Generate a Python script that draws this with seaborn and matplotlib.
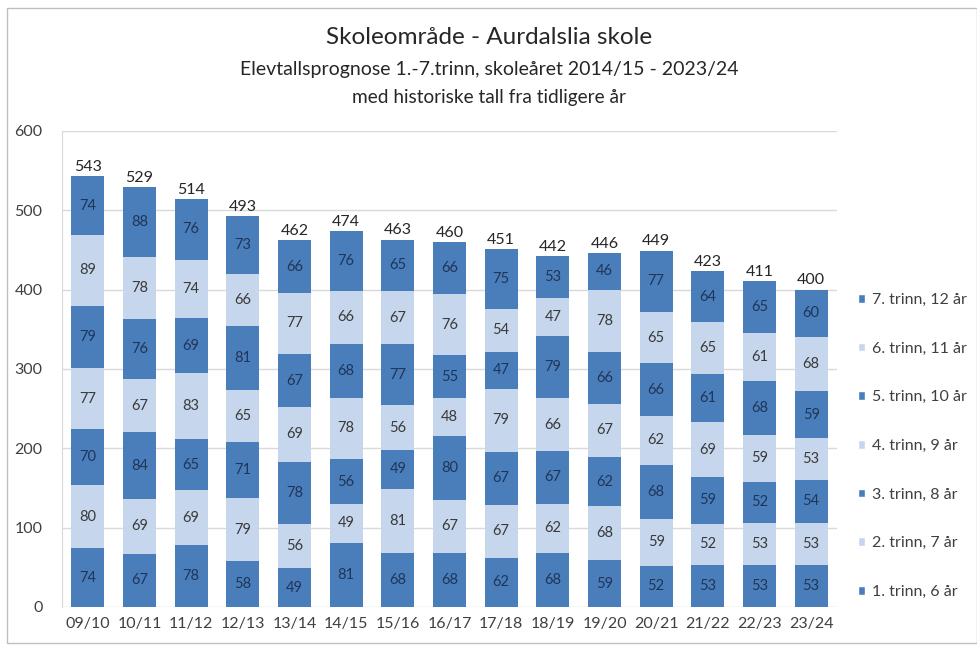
import numpy as np
import pandas as pd
import matplotlib.pyplot as plt
import seaborn as sns
from matplotlib.patches import Patch, Rectangle

# --- data ---
years = ['09/10', '10/11', '11/12', '12/13', '13/14', '14/15', '15/16', '16/17',
         '17/18', '18/19', '19/20', '20/21', '21/22', '22/23', '23/24']
trinn_labels = ['1. trinn, 6 år', '2. trinn, 7 år', '3. trinn, 8 år', '4. trinn, 9 år',
                '5. trinn, 10 år', '6. trinn, 11 år', '7. trinn, 12 år']
trinn1 = [74, 67, 78, 58, 49, 81, 68, 68, 62, 68, 59, 52, 53, 53, 53]
trinn2 = [80, 69, 69, 79, 56, 49, 81, 67, 67, 62, 68, 59, 52, 53, 53]
trinn3 = [70, 84, 65, 71, 78, 56, 49, 80, 67, 67, 62, 68, 59, 52, 54]
trinn4 = [77, 67, 83, 65, 69, 78, 56, 48, 79, 66, 67, 62, 69, 59, 53]
trinn5 = [79, 76, 69, 81, 67, 68, 77, 55, 47, 79, 66, 66, 61, 68, 59]
trinn6 = [89, 78, 74, 66, 77, 66, 67, 76, 54, 47, 78, 65, 65, 61, 68]
trinn7 = [74, 88, 76, 73, 66, 76, 65, 66, 75, 53, 46, 77, 64, 65, 60]
totals = [543, 529, 514, 493, 462, 474, 463, 460, 451, 442, 446, 449, 423, 411, 400]

series = [trinn1, trinn2, trinn3, trinn4, trinn5, trinn6, trinn7]
dark = '#4a7ebb'
light = '#c6d6ec'
colors = [dark, light, dark, light, dark, light, dark]

df = pd.DataFrame({lab: vals for lab, vals in zip(trinn_labels, series)})
df['year'] = years
cum = df[trinn_labels].cumsum(axis=1)

sns.set_style('white')
plt.rcParams['font.family'] = ['Lato', 'DejaVu Sans']

fig = plt.figure(figsize=(9.78, 6.46), dpi=100)
ax = fig.add_axes([62 / 978, 1 - 607 / 646, 775 / 978, 476 / 646])

# stacked bars: draw cumulative totals from top layer down
for i in range(len(trinn_labels) - 1, -1, -1):
    sns.barplot(x=years, y=cum.iloc[:, i].values, color=colors[i], width=0.64,
                saturation=1, ax=ax, zorder=3, edgecolor='none')

# segment labels
for i, lab in enumerate(trinn_labels):
    tc = '#1f3559' if colors[i] == dark else '#3a3a3a'
    for j in range(len(years)):
        v = series[i][j]
        mid = cum.iloc[j, i] - v / 2
        ax.text(j, mid, str(v), ha='center', va='center', fontsize=10.5,
                color=tc, zorder=4)

# totals on top
for j, t in enumerate(totals):
    ax.text(j, t + 3, str(t), ha='center', va='bottom', fontsize=11.5,
            color='#262626', zorder=4)

ax.set_ylim(0, 600)
ax.set_xlim(-0.5, len(years) - 0.5)
ax.set_yticks(range(0, 601, 100))
ax.yaxis.grid(True, color='#d9d9d9', linewidth=1)
ax.set_axisbelow(True)
for s in ['top', 'right', 'bottom']:
    ax.spines[s].set_visible(False)
ax.spines['left'].set_color('#d9d9d9')
ax.tick_params(axis='both', length=0, labelsize=11.5, colors='#404040')
ax.tick_params(axis='y', pad=14)
ax.tick_params(axis='x', pad=7)
ax.set_xlabel('')
ax.set_ylabel('')

# legend
handles = [Patch(facecolor=colors[i], label=trinn_labels[i]) for i in range(6, -1, -1)]
fig.legend(handles=handles, loc='upper left', bbox_to_anchor=(858 / 978, 1 - 293 / 646),
           frameon=False, fontsize=11.5, handlelength=0.45, handleheight=0.45,
           handletextpad=0.4, labelspacing=2.17, labelcolor='#404040',
           borderaxespad=0, borderpad=0)

# titles
fig.text(0.5, 1 - 38 / 646, 'Skoleområde - Aurdalslia skole', ha='center', va='center',
         fontsize=17.5, color='#262626')
fig.text(0.5, 1 - 70 / 646, 'Elevtallsprognose 1.-7.trinn, skoleåret 2014/15 - 2023/24',
         ha='center', va='center', fontsize=14, color='#262626')
fig.text(0.5, 1 - 98 / 646, 'med historiske tall fra tidligere år', ha='center',
         va='center', fontsize=13.7, color='#262626')

# chart border
fig.patches.append(Rectangle((7 / 978, 3 / 646), 970 / 978, 635 / 646,
                             transform=fig.transFigure, fill=False,
                             edgecolor='#bfbfbf', linewidth=1))

plt.savefig('out.png', dpi=100)
